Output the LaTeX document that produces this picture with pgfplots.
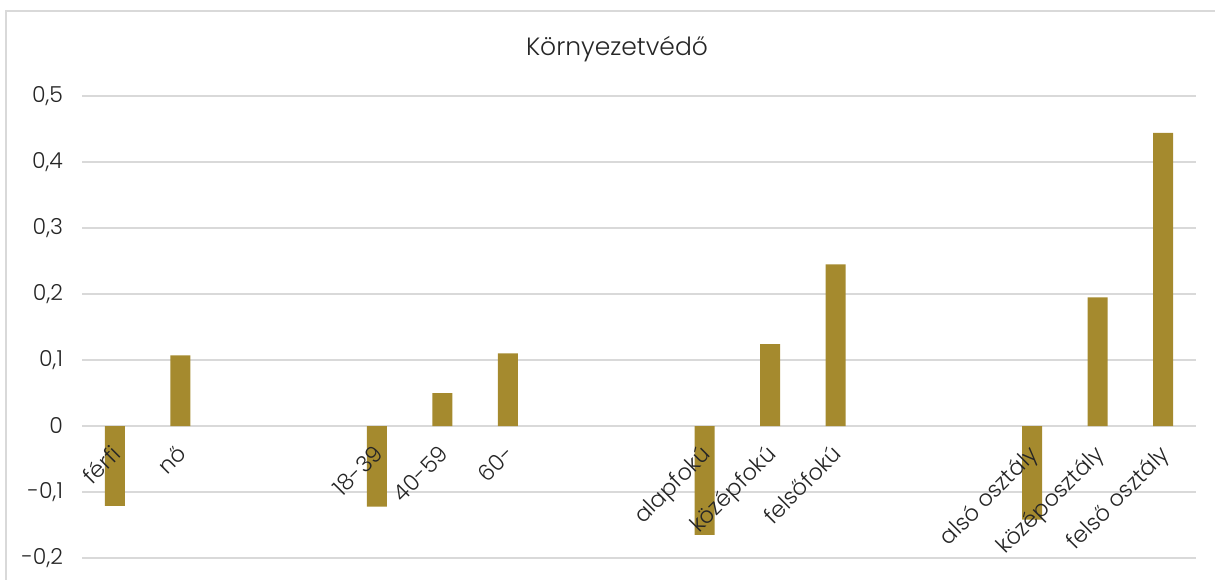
\documentclass[border=0pt]{standalone}
\usepackage{fontspec}
\setmainfont{Poppins}[UprightFont=*-Light]
\usepackage{pgfplots}
\pgfplotsset{compat=1.18}
\definecolor{bargold}{HTML}{A58A2E}
\definecolor{gridgray}{HTML}{D9D9D9}
\pgfplotsset{base/.style={
  at={(41pt,10.5pt)}, anchor=south west,
  scale only axis, width=557pt, height=231pt,
  xmin=-0.5, xmax=16.5, ymin=-0.2, ymax=0.5,
  major tick length=0pt,
  xtick={0,1,4,5,6,9,10,11,14,15,16},
}}
\begin{document}
\begin{tikzpicture}
\useasboundingbox (0,0) rectangle (607.5pt,289.5pt);
\draw[gridgray, line width=1pt] (3pt,-5pt) rectangle (612pt,284pt);
\node[font=\fontsize{12.5}{14}\selectfont, text=black!85] at (308.5pt,265pt) {Környezetvédő};
\begin{axis}[
  base,
  ytick={-0.2,-0.1,0,0.1,0.2,0.3,0.4,0.5},
  ymajorgrids, grid style={gridgray, line width=0.8pt},
  axis x line*=middle, axis y line*=left,
  x axis line style={gridgray, line width=0.8pt},
  y axis line style={draw=none},
  xticklabels={},
  yticklabel style={font=\fontsize{11}{13}\selectfont, text=black!85, xshift=-6pt},
  /pgf/number format/.cd, use comma, fixed, precision=1, assume math mode=true,
  /pgfplots/.cd,
  ybar, bar width=10pt,
]
\addplot[fill=bargold, draw=none] coordinates {
 (0,-0.121) (1,0.107) (4,-0.122) (5,0.050) (6,0.110)
 (9,-0.165) (10,0.124) (11,0.245) (14,-0.142) (15,0.195) (16,0.444)};
\end{axis}
\begin{axis}[
  base,
  axis x line*=middle, axis y line=none,
  x axis line style={draw=none},
  ytick=\empty,
  xticklabels={férfi,nő,18-39,40-59,60-,alapfokú,középfokú,felsőfokú,alsó osztály,középosztály,felső osztály},
  xticklabel style={rotate=45, anchor=east, inner sep=0pt, text height=1.7ex, text depth=0.45ex, yshift=-9.7pt, xshift=-7.7pt, font=\fontsize{11.2}{13}\selectfont, text=black!85},
]
\end{axis}
\end{tikzpicture}
\end{document}
